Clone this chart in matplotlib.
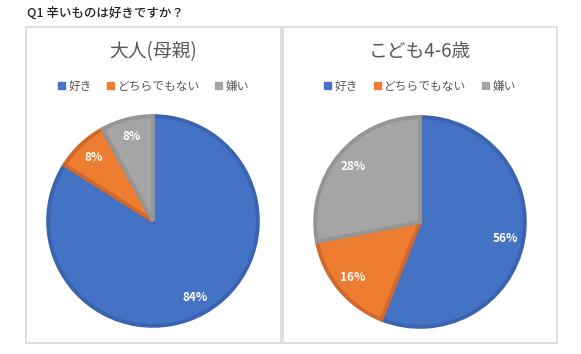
import matplotlib
matplotlib.use("Agg")
import matplotlib.pyplot as plt
from matplotlib.patches import Rectangle, Patch

plt.rcParams['font.family'] = ['Noto Sans CJK JP', 'DejaVu Sans']

main_title = "Q1 辛いものは好きですか？"
categories = ["好き", "どちらでもない", "嫌い"]
panel_titles = ["大人(母親)", "こども4-6歳"]
adult_values = [84, 8, 8]
child_values = [56, 16, 28]
colors = ["#4472C4", "#ED7D31", "#A5A5A5"]
edge_colors = ["#3A63B0", "#D2692A", "#959595"]

W, H = 581, 354
fig = plt.figure(figsize=(W / 100, H / 100), dpi=100)
fig.patch.set_facecolor("white")

def fx(x): return x / W
def fy(y): return 1 - y / H

fig.text(fx(27), fy(13), main_title, fontsize=9, color="#222222",
         ha="left", va="center", fontweight="medium")

panels = [(26, 281), (283, 557)]
centers = [(153, 221), (420, 222)]
R = 108
datasets = [adult_values, child_values]

for (x0, x1), (cx, cy), title, vals in zip(panels, centers, panel_titles, datasets):
    fig.patches.append(Rectangle((fx(x0), fy(343)), fx(x1 - x0), (343 - 27) / H,
                                 transform=fig.transFigure, facecolor="none",
                                 edgecolor="#D9D9D9", linewidth=1.2, zorder=-5))
    xm = (x0 + x1) / 2
    fig.text(fx(xm), fy(52), title, fontsize=13.5, color="#595959",
             ha="center", va="center")
    ax = fig.add_axes([fx(cx - R), fy(cy + R), 2 * R / W, 2 * R / H])
    wedges, texts, autotexts = ax.pie(
        vals, colors=colors, startangle=90, counterclock=False,
        autopct=lambda p: f"{p:.0f}%", pctdistance=0.83,
        wedgeprops=dict(linewidth=2.8),
        textprops=dict(color="white", fontsize=8.5, fontweight="bold"))
    for w, ec in zip(wedges, edge_colors):
        w.set_edgecolor(ec)
    ax.set_xlim(-1.03, 1.03)
    ax.set_ylim(-1.03, 1.03)
    ax.set_aspect("equal")
    ax.axis("off")
    handles = [Patch(facecolor=c, edgecolor=c) for c in colors]
    fig.legend(handles, categories, loc="center", bbox_to_anchor=(fx(xm), fy(86)),
               ncol=3, frameon=False, fontsize=8.5, labelcolor="#595959",
               handlelength=0.6, handleheight=0.6, handletextpad=0.3,
               columnspacing=1.3)

fig.savefig("out.png", dpi=100, facecolor="white")
